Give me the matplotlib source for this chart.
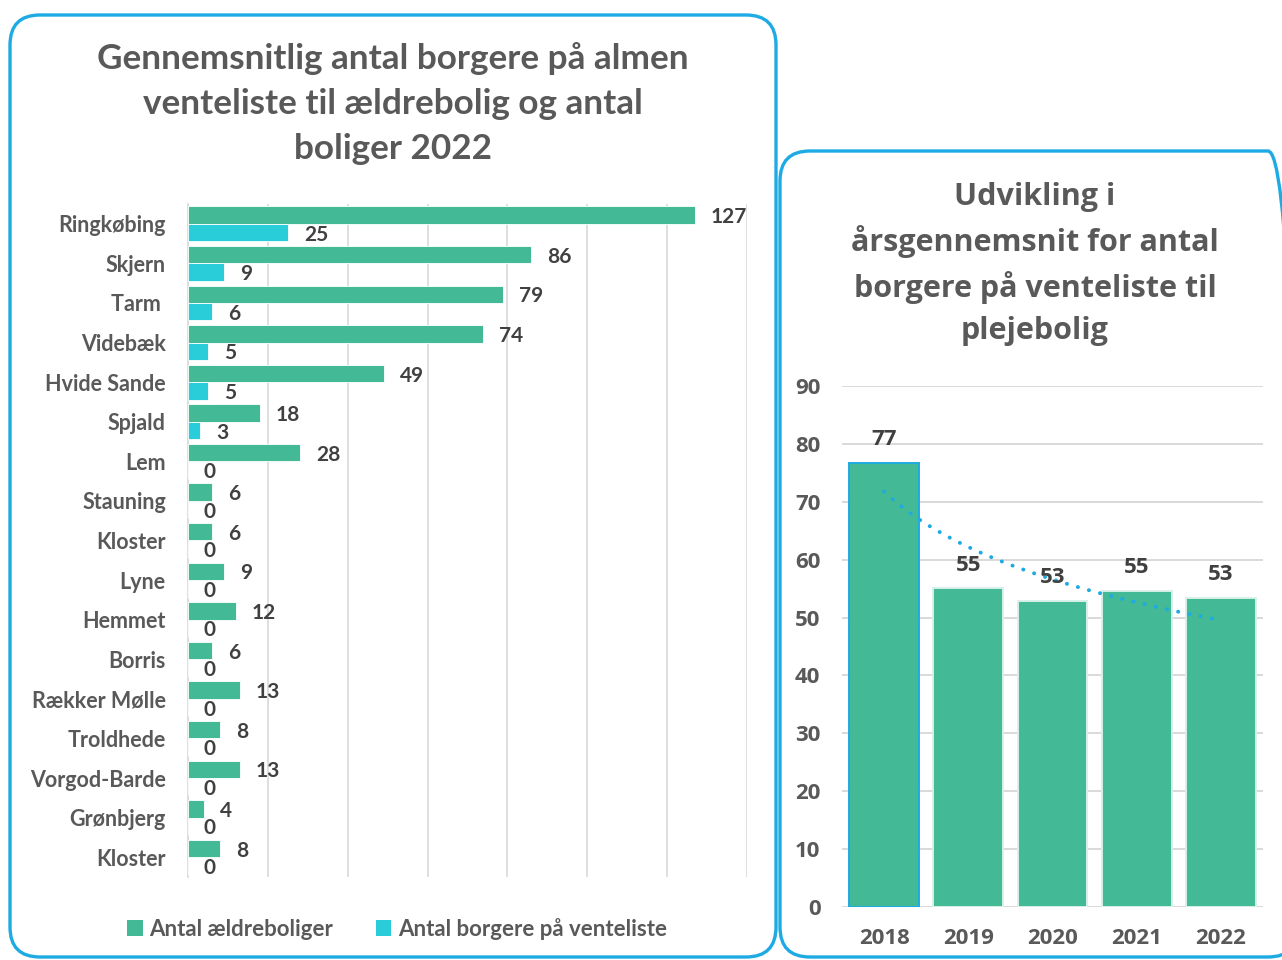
import numpy as np
import matplotlib
matplotlib.use("Agg")
import matplotlib.pyplot as plt
from matplotlib.patches import FancyBboxPatch, Patch
from matplotlib.transforms import IdentityTransform

# ---------------- data ----------------
areas = ["Ringkøbing", "Skjern", "Tarm ", "Videbæk", "Hvide Sande", "Spjald", "Lem",
         "Stauning", "Kloster", "Lyne", "Hemmet", "Borris", "Rækker Mølle",
         "Troldhede", "Vorgod-Barde", "Grønbjerg", "Kloster"]
aeldreboliger = [127, 86, 79, 74, 49, 18, 28, 6, 6, 9, 12, 6, 13, 8, 13, 4, 8]
venteliste = [25, 9, 6, 5, 5, 3, 0, 0, 0, 0, 0, 0, 0, 0, 0, 0, 0]
series_names = ["Antal ældreboliger", "Antal borgere på venteliste"]
left_title = "Gennemsnitlig antal borgere på almen\nventeliste til ældrebolig og antal\nboliger 2022"

years = ["2018", "2019", "2020", "2021", "2022"]
pleje_values = [76.7, 55.1, 52.9, 54.6, 53.4]
right_title = "Udvikling i\nårsgennemsnit for antal\nborgere på venteliste til\nplejebolig"

# ---------------- style ----------------
GREEN = "#43B995"
CYAN = "#28CDD9"
BLUE = "#1EAAE3"
GRID = "#D9D9D9"
TXT = "#595959"
VAL = "#404040"

W, H = 1282, 960
fig = plt.figure(figsize=(W / 100, H / 100), dpi=100)
fig.patch.set_facecolor("white")

# panel borders (pixel coordinates, origin bottom-left)
def panel(x0, y0_top, x1, y1_bottom):
    p = FancyBboxPatch((x0, H - y1_bottom), x1 - x0, y1_bottom - y0_top,
                       boxstyle="round,pad=0,rounding_size=30",
                       transform=IdentityTransform(), fill=False,
                       edgecolor=BLUE, linewidth=2.4, zorder=0)
    fig.patches.append(p)

panel(10, 15, 776, 957)
panel(780, 151, 1298, 957)

# ---------------- left chart ----------------
axL = fig.add_axes([188 / W, 1 - 877 / H, (747 - 188) / W, (877 - 204) / H])
n = len(areas)
y = np.arange(n)
h = 0.44
axL.barh(y - h / 2, aeldreboliger, height=h, color=GREEN, edgecolor="white", linewidth=0.6, zorder=3)
axL.barh(y + h / 2, venteliste, height=h, color=CYAN, edgecolor="white", linewidth=0.6, zorder=3)
axL.set_xlim(0, 140)
axL.set_ylim(n - 0.5, -0.5)
axL.set_xticks(np.arange(0, 141, 20))
axL.xaxis.grid(True, color=GRID, linewidth=1.2, zorder=0)
axL.tick_params(axis="x", length=0, labelbottom=False)
axL.tick_params(axis="y", length=0, pad=16)
axL.set_yticks(y)
axL.set_yticklabels(areas, fontsize=15.5, fontweight="bold", color=TXT, family="Lato")
for s in ["top", "right", "bottom"]:
    axL.spines[s].set_visible(False)
axL.spines["left"].set_color(GRID)
axL.spines["left"].set_linewidth(1.2)
axL.set_axisbelow(True)

for i in range(n):
    axL.annotate(str(aeldreboliger[i]), (aeldreboliger[i], y[i] - h / 2), xytext=(11.5, -1.5),
                 textcoords="offset points", ha="left", va="center",
                 fontsize=15, fontweight="bold", color=VAL, family="Lato")
    axL.annotate(str(venteliste[i]), (venteliste[i], y[i] + h / 2), xytext=(11.5, -1.5),
                 textcoords="offset points", ha="left", va="center",
                 fontsize=15, fontweight="bold", color=VAL, family="Lato")

fig.text(393 / W, 1 - 104 / H, left_title, ha="center", va="center",
         fontsize=25.3, fontweight="bold", color=TXT, family="Lato", linespacing=1.5)

handles = [Patch(facecolor=GREEN, edgecolor="none"), Patch(facecolor=CYAN, edgecolor="none")]
fig.legend(handles, series_names, loc="center", bbox_to_anchor=(397 / W, 1 - 929 / H),
           ncol=2, frameon=False, handlelength=0.7, handleheight=0.7, handletextpad=0.3,
           columnspacing=1.9, prop={"family": "Lato", "weight": "bold", "size": 16},
           labelcolor=TXT)

# ---------------- right chart ----------------
axR = fig.add_axes([842 / W, 1 - 907 / H, (1263 - 842) / W, (907 - 386) / H])
x = np.arange(len(years))
edges = [BLUE] + ["#D8F1E8"] * (len(years) - 1)
axR.bar(x, pleje_values, width=0.83, color=GREEN, edgecolor=edges, linewidth=1.4, zorder=3)
axR.set_xlim(-0.5, len(years) - 0.5)
axR.set_ylim(0, 90)
axR.set_yticks(np.arange(0, 91, 10))
axR.yaxis.grid(True, color=GRID, linewidth=1.4, zorder=0)
axR.set_axisbelow(True)
for s in ["top", "right", "left", "bottom"]:
    axR.spines[s].set_visible(False)
axR.tick_params(axis="both", length=0)
axR.tick_params(axis="y", pad=15.5)
axR.tick_params(axis="x", pad=15)
axR.set_xticks(x)
axR.set_xticklabels(years)
for lab in axR.get_xticklabels() + axR.get_yticklabels():
    lab.set_fontsize(16)
    lab.set_fontweight("bold")
    lab.set_color(TXT)
    lab.set_family("Open Sans")

for i, v in enumerate(pleje_values):
    axR.annotate(f"{v:.0f}", (x[i], v), xytext=(0, 9), textcoords="offset points",
                 ha="center", va="bottom", fontsize=16, fontweight="bold", color=VAL,
                 family="Open Sans", zorder=5)

# logarithmic trendline (as Excel)
xi = np.arange(1, len(years) + 1)
b, a = np.polyfit(np.log(xi), pleje_values, 1)
xs = np.linspace(1, len(years), 200)
axR.plot(xs - 1, a + b * np.log(xs), color=BLUE, linewidth=2.8,
         linestyle=(0, (0.05, 2.9)), dash_capstyle="round", zorder=4)

fig.text(1035 / W, 1 - 264 / H, right_title, ha="center", va="center",
         fontsize=22, fontweight="bold", color=TXT, family="Open Sans", linespacing=1.5)

fig.savefig("out.png", dpi=100)
